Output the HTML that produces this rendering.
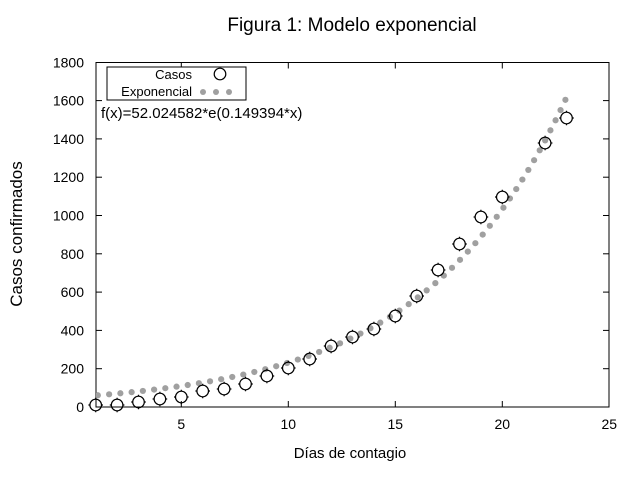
<!DOCTYPE html>
<html><head><meta charset="utf-8"><style>
body{margin:0;background:#fff}
svg{display:block;font-family:"Liberation Sans",sans-serif}
</style></head><body>
<svg id="s" width="640" height="480" xmlns="http://www.w3.org/2000/svg">
<rect width="640" height="480" fill="#fff"/>
<text x="352" y="31" font-size="19" text-anchor="middle">Figura 1: Modelo exponencial</text>
<text transform="translate(22,234) rotate(-90)" font-size="17" text-anchor="middle">Casos confirmados</text>
<text x="350" y="458" font-size="15" text-anchor="middle">Días de contagio</text>
<g id="ax" stroke="#000" stroke-width="1" fill="none">
<rect x="96" y="62.5" width="513" height="344.5"/>
</g>
<g id="lab" font-size="14"></g>
<defs><clipPath id="c"><rect x="96" y="62" width="513" height="345"/></clipPath></defs>
<g id="dots" fill="#a0a0a0" clip-path="url(#c)"></g>
<g id="circ" stroke="#000" stroke-width="1.2" fill="none"></g>
<rect x="107" y="67" width="139" height="33" fill="#fff" stroke="#000"/>
<text x="192" y="79" font-size="13" text-anchor="end">Casos</text>
<text x="192" y="96" font-size="13" text-anchor="end">Exponencial</text>
<circle cx="220" cy="74" r="5.8" fill="none" stroke="#000" stroke-width="1.2"/>
<g fill="#a0a0a0"><circle cx="203" cy="92" r="3"/><circle cx="216" cy="92" r="3"/><circle cx="229" cy="92" r="3"/></g>
<text x="101" y="118" font-size="15">f(x)=52.024582*e(0.149394*x)</text>
</svg>
<script>
var NS="http://www.w3.org/2000/svg";
function el(p,t,a,txt){var e=document.createElementNS(NS,t);for(var k in a)e.setAttribute(k,a[k]);if(txt)e.textContent=txt;document.getElementById(p).appendChild(e);}
function X(x){return 95.7+(x-1)*21.4}
function Y(v){return 407-v*0.1915}
for(var v=0;v<=1800;v+=200){var y=Y(v);
 if(v>0&&v<1800){el("ax","line",{x1:96,y1:y,x2:102,y2:y});el("ax","line",{x1:603,y1:y,x2:609,y2:y});}
 el("lab","text",{x:84,y:y+5,"text-anchor":"end"},""+v);}
for(var x=5;x<=25;x+=5){var px=X(x);
 if(x<25){el("ax","line",{x1:px,y1:407,x2:px,y2:401});el("ax","line",{x1:px,y1:62.5,x2:px,y2:68.5});}
 el("lab","text",{x:px,y:429,"text-anchor":"middle"},""+x);}
function F(x){return 52.024582*Math.exp(0.149394*x)}
var t=1.1,lx=X(t),ly=Y(F(t)),acc=0,step=11.3;
el("dots","circle",{cx:lx,cy:ly,r:3.1});
for(t=1.1;t<=22.95;t+=0.001){var px=X(t),py=Y(F(t));acc+=Math.hypot(px-lx,py-ly);lx=px;ly=py;
 if(acc>=step){acc=0;el("dots","circle",{cx:px,cy:py,r:3.1});}}
var c=[[1,405],[2,405],[3,402],[4,399],[5,397],[6,391],[7,389],[8,384],[9,376],[10,368],[11,359],[12,346],[13,337],[14,329],[15,316],[16,296],[17,270],[18,244],[19,217],[20,197],[22,143],[23,118]];
c.forEach(function(p){var x=X(p[0]),y=p[1];el("circ","circle",{cx:x,cy:y,r:5.8});
 el("circ","path",{d:"M"+x+" "+(y-7.3)+"v1.6M"+x+" "+(y+5.7)+"v1.6M"+(x-7.3)+" "+y+"h1.6M"+(x+5.7)+" "+y+"h1.6"});});
</script>
</body></html>
